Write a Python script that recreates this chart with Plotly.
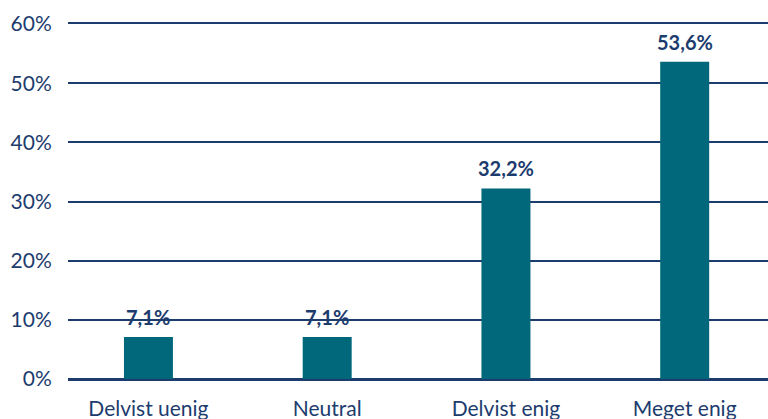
import plotly.graph_objects as go

categories = ["Delvist uenig", "Neutral", "Delvist enig", "Meget enig"]
values = [7.1, 7.1, 32.2, 53.6]
y_ticks = [0, 10, 20, 30, 40, 50, 60]
y_tick_labels = [f"{v}%" for v in y_ticks]

BAR = "#00687A"
NAVY = "#1D3C6E"
FONT = "Lato"

fig = go.Figure()
fig.add_trace(go.Bar(
    x=list(range(len(categories))), y=values,
    marker=dict(color=BAR, line=dict(width=0)),
    width=0.274,
    hoverinfo="skip",
))

for i, v in enumerate(values):
    fig.add_annotation(
        x=i, y=v, text=f"<b>{v:.1f}%</b>".replace(".", ","),
        showarrow=False, yanchor="bottom", yshift=6,
        font=dict(family=FONT, size=20, color=NAVY),
    )

fig.update_layout(
    width=768, height=419,
    margin=dict(l=68, r=0, t=24, b=40, autoexpand=False),
    plot_bgcolor="white", paper_bgcolor="white",
    showlegend=False,
    font=dict(family=FONT, color=NAVY),
    xaxis=dict(
        range=[-0.45, 3.466], automargin=False,
        tickmode="array", tickvals=list(range(len(categories))), ticktext=categories,
        showgrid=False, zeroline=False,
        showline=True, mirror=True, linecolor=NAVY, linewidth=1.5,
        tickfont=dict(family=FONT, size=21, color=NAVY),
        ticks="outside", ticklen=10, tickcolor="rgba(0,0,0,0)",
    ),
    yaxis=dict(
        range=[0, 60], automargin=False,
        tickmode="array", tickvals=y_ticks, ticktext=y_tick_labels,
        showgrid=True, gridcolor=NAVY, gridwidth=1.5,
        zeroline=True, zerolinecolor=NAVY, zerolinewidth=1.5,
        showline=False,
        tickfont=dict(family=FONT, size=21, color=NAVY),
        ticks="outside", ticklen=11, tickcolor="rgba(0,0,0,0)",
    ),
)

fig.write_html("out.html", config={"displayModeBar": False},
               post_script="document.body.style.margin='0';")
